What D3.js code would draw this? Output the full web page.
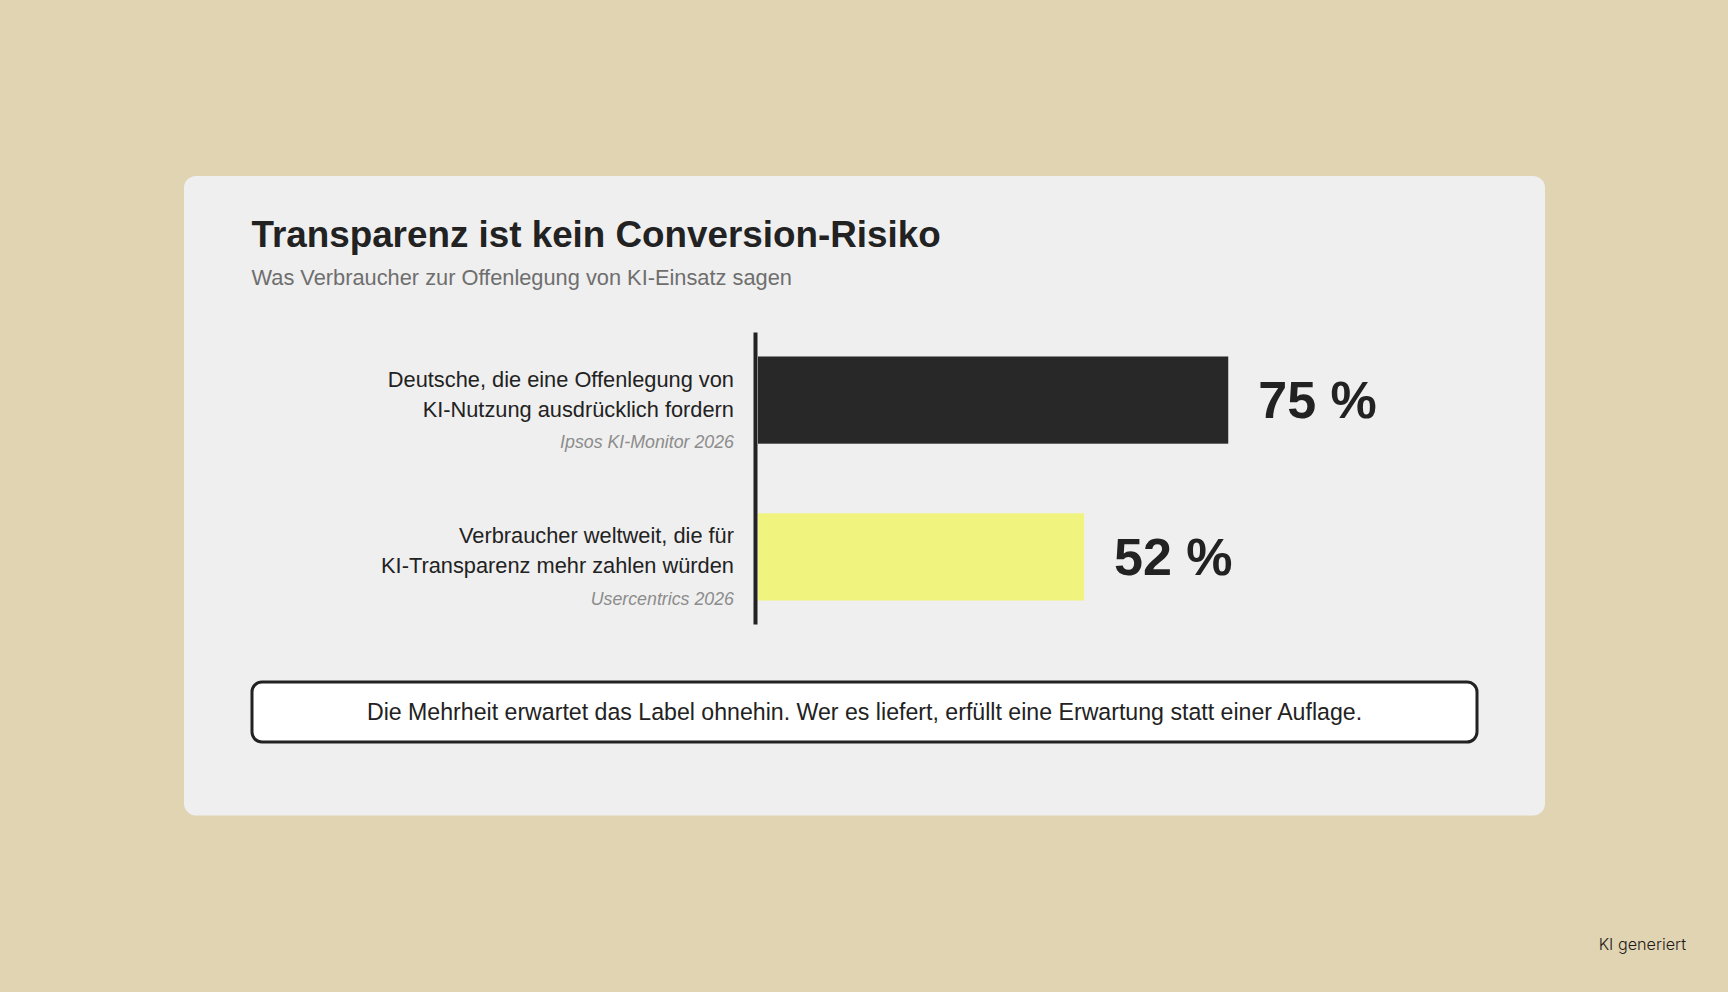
<!doctype html>
<html>
<head>
<meta charset="utf-8">
<style>
    html, body { margin: 0; padding: 0; background: #e0d4b3; }
    svg { display: block; }
    text { font-family: "Liberation Sans", Arial, sans-serif; }
</style>
</head>
<body>
    <div class="container"></div>

    <script src="https://cdnjs.cloudflare.com/ajax/libs/d3/7.8.5/d3.min.js"></script>

    <script>
        const categories = ['Deutsche', 'Verbraucher']
        const values = [75, 52]
        const valueLabels = ['75 %', '52 %']
        const labelLines = [
            ['Deutsche, die eine Offenlegung von', 'KI-Nutzung ausdrücklich fordern'],
            ['Verbraucher weltweit, die für', 'KI-Transparenz mehr zahlen würden']
        ]
        const sources = ['Ipsos KI-Monitor 2026', 'Usercentrics 2026']
        const barColors = ['#282828', '#f0f47e']

        const title = 'Transparenz ist kein Conversion-Risiko'
        const subtitle = 'Was Verbraucher zur Offenlegung von KI-Einsatz sagen'
        const callout = 'Die Mehrheit erwartet das Label ohnehin. Wer es liefert, erfüllt eine Erwartung statt einer Auflage.'
        const badge = 'KI generiert'

        const dark = '#222222'

        const svg = d3.select('.container').append('svg').attr('width', 1728).attr('height', 992)

        svg.append('rect').attr('width', 1728).attr('height', 992).attr('fill', '#e0d4b3')

        // card
        svg.append('rect')
            .attr('x', 184).attr('y', 176)
            .attr('width', 1361).attr('height', 639.5)
            .attr('rx', 12)
            .attr('fill', '#efefef')

        svg.append('text')
            .attr('x', 251.5).attr('y', 246.5)
            .attr('font-size', 36.8).attr('font-weight', 700)
            .attr('fill', dark)
            .text(title)

        svg.append('text')
            .attr('x', 251.5).attr('y', 285)
            .attr('font-size', 21.8)
            .attr('fill', '#6e6e6e')
            .text(subtitle)

        const x = d3.scaleLinear().domain([0, 100]).range([758, 1385])
        const y = d3.scaleBand().domain(categories).range([332.5, 624.5]).paddingInner(0.444).paddingOuter(0.153)

        const rows = svg.selectAll('g.row').data(categories).enter().append('g')
            .attr('class', 'row')
            .attr('transform', d => `translate(0,${y(d)})`)

        rows.append('rect')
            .attr('x', x(0))
            .attr('width', (d, i) => x(values[i]) - x(0))
            .attr('height', y.bandwidth())
            .attr('fill', (d, i) => barColors[i])

        rows.append('text')
            .attr('x', (d, i) => x(values[i]) + 30)
            .attr('y', 61.2)
            .attr('font-size', 52).attr('font-weight', 700)
            .attr('fill', dark)
            .text((d, i) => valueLabels[i])

        rows.each(function (d, i) {
            const g = d3.select(this)
            labelLines[i].forEach((line, j) => {
                g.append('text')
                    .attr('x', 734).attr('y', 30.1 + j * 30)
                    .attr('text-anchor', 'end')
                    .attr('font-size', 21.8)
                    .attr('fill', dark)
                    .text(line)
            })
        })

        rows.append('text')
            .attr('x', 734).attr('y', 91.5)
            .attr('text-anchor', 'end')
            .attr('font-size', 17.8).attr('font-style', 'italic')
            .attr('fill', '#8c8c8c')
            .text((d, i) => sources[i])

        // zero axis
        svg.append('line')
            .attr('x1', 755.5).attr('x2', 755.5)
            .attr('y1', 332.5).attr('y2', 624.5)
            .attr('stroke', dark).attr('stroke-width', 4)

        // callout
        svg.append('rect')
            .attr('x', 252).attr('y', 682)
            .attr('width', 1225).attr('height', 60)
            .attr('rx', 10)
            .attr('fill', '#ffffff')
            .attr('stroke', dark).attr('stroke-width', 3)

        svg.append('text')
            .attr('x', 864.5).attr('y', 720)
            .attr('text-anchor', 'middle')
            .attr('font-size', 23.15)
            .attr('fill', dark)
            .text(callout)

        svg.append('text')
            .attr('x', 1686).attr('y', 950)
            .attr('text-anchor', 'end')
            .attr('font-size', 16.2).attr('font-weight', 300)
            .attr('fill', '#1f1a18')
            .style('font-family', 'Inter')
            .text(badge)
    </script>
</body>
</html>
